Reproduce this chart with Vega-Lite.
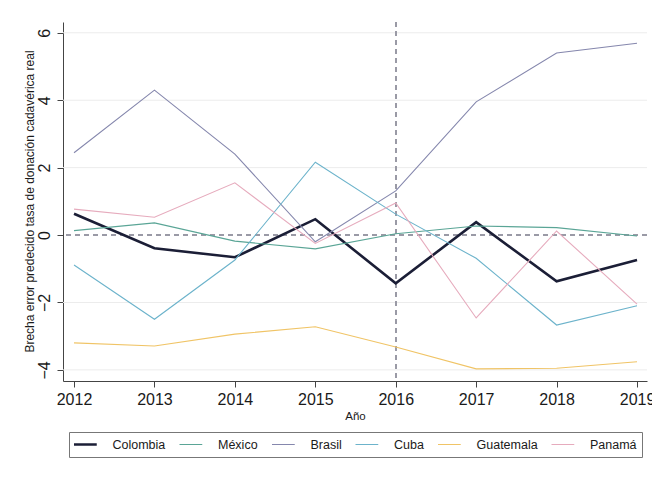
{
  "$schema": "https://vega.github.io/schema/vega-lite/v6.json",
  "width": 584,
  "height": 359,
  "autosize": {"type": "none"},
  "padding": {"left": 63, "top": 22, "right": 5, "bottom": 96},
  "background": "white",
  "config": {
    "font": "Liberation Sans",
    "view": {"stroke": null},
    "axis": {"labelFont": "Liberation Sans", "titleFont": "Liberation Sans"}
  },
  "data": {
    "values": [
      {"anio": 2012, "pais": "Colombia", "valor": 0.63},
      {"anio": 2013, "pais": "Colombia", "valor": -0.39},
      {"anio": 2014, "pais": "Colombia", "valor": -0.66},
      {"anio": 2015, "pais": "Colombia", "valor": 0.47},
      {"anio": 2016, "pais": "Colombia", "valor": -1.43},
      {"anio": 2017, "pais": "Colombia", "valor": 0.38},
      {"anio": 2018, "pais": "Colombia", "valor": -1.37},
      {"anio": 2019, "pais": "Colombia", "valor": -0.74},
      {"anio": 2012, "pais": "México", "valor": 0.13},
      {"anio": 2013, "pais": "México", "valor": 0.36},
      {"anio": 2014, "pais": "México", "valor": -0.18},
      {"anio": 2015, "pais": "México", "valor": -0.41},
      {"anio": 2016, "pais": "México", "valor": 0.04},
      {"anio": 2017, "pais": "México", "valor": 0.27},
      {"anio": 2018, "pais": "México", "valor": 0.22},
      {"anio": 2019, "pais": "México", "valor": -0.03},
      {"anio": 2012, "pais": "Brasil", "valor": 2.44},
      {"anio": 2013, "pais": "Brasil", "valor": 4.3},
      {"anio": 2014, "pais": "Brasil", "valor": 2.4},
      {"anio": 2015, "pais": "Brasil", "valor": -0.2},
      {"anio": 2016, "pais": "Brasil", "valor": 1.31},
      {"anio": 2017, "pais": "Brasil", "valor": 3.95},
      {"anio": 2018, "pais": "Brasil", "valor": 5.4},
      {"anio": 2019, "pais": "Brasil", "valor": 5.69},
      {"anio": 2012, "pais": "Cuba", "valor": -0.89},
      {"anio": 2013, "pais": "Cuba", "valor": -2.5},
      {"anio": 2014, "pais": "Cuba", "valor": -0.74},
      {"anio": 2015, "pais": "Cuba", "valor": 2.16},
      {"anio": 2016, "pais": "Cuba", "valor": 0.62},
      {"anio": 2017, "pais": "Cuba", "valor": -0.69},
      {"anio": 2018, "pais": "Cuba", "valor": -2.67},
      {"anio": 2019, "pais": "Cuba", "valor": -2.1},
      {"anio": 2012, "pais": "Guatemala", "valor": -3.2},
      {"anio": 2013, "pais": "Guatemala", "valor": -3.29},
      {"anio": 2014, "pais": "Guatemala", "valor": -2.94},
      {"anio": 2015, "pais": "Guatemala", "valor": -2.72},
      {"anio": 2016, "pais": "Guatemala", "valor": -3.32},
      {"anio": 2017, "pais": "Guatemala", "valor": -3.97},
      {"anio": 2018, "pais": "Guatemala", "valor": -3.95},
      {"anio": 2019, "pais": "Guatemala", "valor": -3.76},
      {"anio": 2012, "pais": "Panamá", "valor": 0.77},
      {"anio": 2013, "pais": "Panamá", "valor": 0.53},
      {"anio": 2014, "pais": "Panamá", "valor": 1.55},
      {"anio": 2015, "pais": "Panamá", "valor": -0.25},
      {"anio": 2016, "pais": "Panamá", "valor": 0.95},
      {"anio": 2017, "pais": "Panamá", "valor": -2.46},
      {"anio": 2018, "pais": "Panamá", "valor": 0.12},
      {"anio": 2019, "pais": "Panamá", "valor": -2.05}
    ]
  },
  "layer": [
    {
      "mark": {"type": "rule", "color": "#ececec", "strokeWidth": 1},
      "data": {"values": [{"g": 6}, {"g": 4}, {"g": 2}, {"g": -2}, {"g": -4}]},
      "encoding": {
        "y": {"field": "g", "type": "quantitative"}
      }
    },
    {
      "mark": {"type": "rule", "color": "#9a9aa6", "strokeWidth": 1.2, "strokeDash": [5, 4]},
      "encoding": {"y": {"datum": 0, "type": "quantitative"}}
    },
    {
      "mark": {"type": "rule", "color": "#9a9aa6", "strokeWidth": 1.2, "strokeDash": [5, 4]},
      "encoding": {"x": {"datum": 2016, "type": "quantitative"}}
    },
    {
      "mark": {"type": "line", "strokeCap": "butt", "strokeJoin": "miter"},
      "encoding": {
        "x": {
          "field": "anio",
          "type": "quantitative",
          "scale": {"domain": [2011.863, 2019.124], "nice": false, "zero": false},
          "axis": {
            "values": [2012, 2013, 2014, 2015, 2016, 2017, 2018, 2019],
            "format": "d",
            "title": "Año",
            "grid": false,
            "domainColor": "#444",
            "tickColor": "#444",
            "tickSize": 6,
            "labelFontSize": 16,
            "labelColor": "#1a1a1a",
            "labelPadding": 4,
            "labelFlush": false,
            "labelOverlap": false,
            "labelBound": false,
            "titleFontSize": 11.5,
            "titleFontWeight": "normal",
            "titleColor": "#1a1a1a",
            "titleX": 292,
            "titleY": 35,
            "titleBaseline": "middle"
          }
        },
        "y": {
          "field": "valor",
          "type": "quantitative",
          "scale": {"domain": [-4.33, 6.32], "nice": false, "zero": false},
          "axis": {
            "values": [-4, -2, 0, 2, 4, 6],
            "title": "Brecha error predecido tasa de donación cadavérica real",
            "grid": false,
            "domainColor": "#444",
            "tickColor": "#444",
            "tickSize": 6,
            "labelAngle": -90,
            "labelFontSize": 16,
            "labelColor": "#1a1a1a",
            "labelPadding": 5,
            "titleFontSize": 12,
            "titleFontWeight": "normal",
            "titleColor": "#1a1a1a",
            "titleAngle": -90,
            "titleX": -34,
            "titleY": 179,
            "titleAlign": "center",
            "titleBaseline": "middle"
          }
        },
        "color": {
          "field": "pais",
          "type": "nominal",
          "scale": {
            "domain": ["Colombia", "México", "Brasil", "Cuba", "Guatemala", "Panamá"],
            "range": ["#1b1e36", "#5aa596", "#8587ad", "#6cb3cb", "#f0c466", "#e6abbd"]
          },
          "legend": {
            "title": null,
            "orient": "none",
            "legendX": 6,
            "legendY": 410,
            "direction": "horizontal",
            "columns": 6,
            "columnPadding": 13.5,
            "symbolType": "stroke",
            "symbolSize": 1089,
            "clipHeight": 15,
            "labelFontSize": 12.5,
            "labelColor": "#1a1a1a",
            "labelOffset": 26,
            "strokeColor": "#777",
            "fillColor": "white",
            "padding": 5,
            "encode": {
              "symbols": {
                "update": {
                  "strokeWidth": {"signal": "datum.value === 'Colombia' ? 2.6 : 1.1"}
                }
              }
            }
          }
        },
        "strokeWidth": {
          "condition": {"test": "datum.pais === 'Colombia'", "value": 2.6},
          "value": 1.1
        }
      }
    }
  ]
}
